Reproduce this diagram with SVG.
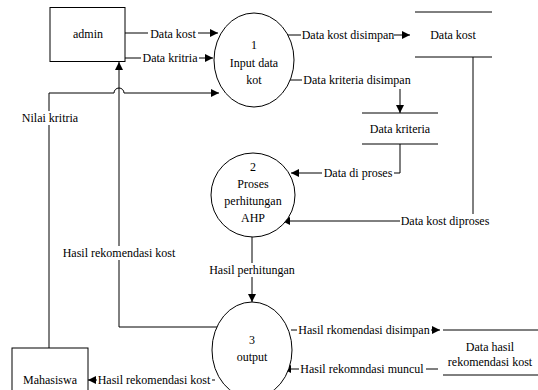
<svg xmlns="http://www.w3.org/2000/svg" width="538" height="390" viewBox="0 0 538 390">
<style>
.n{fill:#fff;stroke:#000;stroke-width:1}
.s{fill:none;stroke:#000;stroke-width:1}
.c{fill:none;stroke:#000;stroke-width:1}
.a{marker-end:url(#arr)}
.bg{fill:#fff}
</style>
<defs>
<marker id="arr" viewBox="0 0 10 10" refX="10" refY="5" markerWidth="9" markerHeight="8" markerUnits="userSpaceOnUse" orient="auto">
<path d="M0,0 L10,5 L0,10 z" fill="#000"/>
</marker>
</defs>
<rect width="538" height="390" fill="#fff"/>
<g id="connectors">
<path class="c a" d="M125,33 H218"/>
<path class="c a" d="M125,58 H213"/>
<path class="c a" d="M49,348 V93 H114 A5,5 0 0 1 124,93 H219"/>
<path class="c a" d="M217,327 H119 V62"/>
<path class="c a" d="M285,35 H410"/>
<path class="c a" d="M287,80 H400 V113"/>
<path class="c a" d="M400,144 V173 H291"/>
<path class="c a" d="M473,57 V221 H282"/>
<path class="c a" d="M252,237 V302"/>
<path class="c a" d="M215,380 H88"/>
<path class="c a" d="M291,330 H440"/>
<path class="c a" d="M438,369 H283"/>
<g id="labels">
<rect class="bg" x="148" y="27" width="50" height="13"/><text x="173" y="38" font-family="Liberation Serif" font-size="12" text-anchor="middle">Data kost</text>
<rect class="bg" x="141" y="51" width="58" height="13"/><text x="170" y="62" font-family="Liberation Serif" font-size="12" text-anchor="middle">Data kritria</text>
<rect class="bg" x="20" y="111" width="60" height="14"/><text x="50" y="122" font-family="Liberation Serif" font-size="12" text-anchor="middle">Nilai kritria</text>
<rect class="bg" x="59" y="246" width="120" height="14"/><text x="119" y="257" font-family="Liberation Serif" font-size="12" text-anchor="middle">Hasil rekomendasi kost</text>
<rect class="bg" x="301" y="28" width="93" height="14"/><text x="348" y="39" font-family="Liberation Serif" font-size="12" text-anchor="middle">Data kost disimpan</text>
<rect class="bg" x="302" y="73" width="110" height="16"/><text x="357" y="84" font-family="Liberation Serif" font-size="12" text-anchor="middle">Data kriteria disimpan</text>
<rect class="bg" x="322" y="166" width="72" height="14"/><text x="358" y="177" font-family="Liberation Serif" font-size="12" text-anchor="middle">Data di proses</text>
<rect class="bg" x="400" y="214" width="91" height="14"/><text x="445" y="225" font-family="Liberation Serif" font-size="12" text-anchor="middle">Data kost diproses</text>
<rect class="bg" x="207" y="263" width="90" height="14"/><text x="252" y="274" font-family="Liberation Serif" font-size="12" text-anchor="middle">Hasil perhitungan</text>
<rect class="bg" x="97" y="373" width="115" height="14"/><text x="154" y="384" font-family="Liberation Serif" font-size="12" text-anchor="middle">Hasil rekomendasi kost</text>
<rect class="bg" x="297" y="323" width="134" height="14"/><text x="364" y="334" font-family="Liberation Serif" font-size="12" text-anchor="middle">Hasil rkomendasi disimpan</text>
<rect class="bg" x="299" y="362" width="127" height="14"/><text x="362" y="373" font-family="Liberation Serif" font-size="12" text-anchor="middle">Hasil rekomndasi muncul</text>
</g>
</g>
<g id="admin"><rect class="n" x="50" y="7.5" width="75" height="54"/><text x="88" y="38" font-family="Liberation Serif" font-size="12" text-anchor="middle">admin</text></g>
<g id="mahasiswa"><rect class="n" x="12" y="348" width="76" height="50"/><text x="50" y="384" font-family="Liberation Serif" font-size="12" text-anchor="middle">Mahasiswa</text></g>
<g id="p1"><ellipse class="n" cx="254" cy="60" rx="40" ry="47"/><text x="254" y="49" font-family="Liberation Serif" font-size="12" text-anchor="middle">1</text><text x="254" y="67" font-family="Liberation Serif" font-size="12" text-anchor="middle">Input data</text><text x="254" y="84" font-family="Liberation Serif" font-size="12" text-anchor="middle">kot</text></g>
<g id="p2"><ellipse class="n" cx="253" cy="195" rx="42" ry="42"/><text x="253" y="171" font-family="Liberation Serif" font-size="12" text-anchor="middle">2</text><text x="253" y="188" font-family="Liberation Serif" font-size="12" text-anchor="middle">Proses</text><text x="253" y="205" font-family="Liberation Serif" font-size="12" text-anchor="middle">perhitungan</text><text x="253" y="222" font-family="Liberation Serif" font-size="12" text-anchor="middle">AHP</text></g>
<g id="p3"><ellipse class="n" cx="252" cy="350" rx="40" ry="48"/><text x="252" y="344" font-family="Liberation Serif" font-size="12" text-anchor="middle">3</text><text x="252" y="361" font-family="Liberation Serif" font-size="12" text-anchor="middle">output</text></g>
<g id="ds-kost"><path class="s" d="M415,12 H492 M415,57 H492"/><text x="453" y="39" font-family="Liberation Serif" font-size="12" text-anchor="middle">Data kost</text></g>
<g id="ds-kriteria"><path class="s" d="M362,113 H438 M362,144 H438"/><text x="400" y="133" font-family="Liberation Serif" font-size="12" text-anchor="middle">Data kriteria</text></g>
<g id="ds-hasil"><path class="s" d="M443,330 H538 M443,375 H538"/><text x="490" y="351" font-family="Liberation Serif" font-size="12" text-anchor="middle">Data hasil</text><text x="490" y="366" font-family="Liberation Serif" font-size="12" text-anchor="middle">rekomendasi kost</text></g>
</svg>
